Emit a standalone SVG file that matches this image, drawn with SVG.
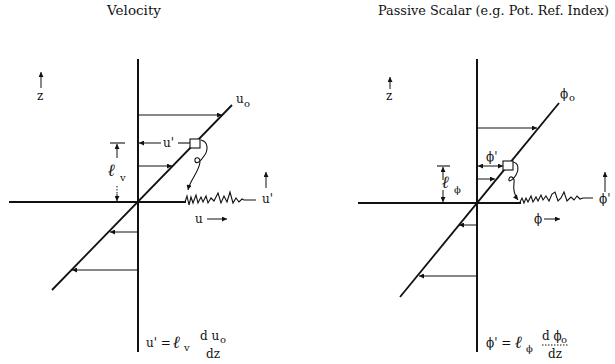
<svg xmlns="http://www.w3.org/2000/svg" width="615" height="364" viewBox="0 0 615 364">
<defs>
<marker id="ah" viewBox="0 0 10 10" refX="10" refY="5" markerWidth="7" markerHeight="5" orient="auto-start-reverse" markerUnits="userSpaceOnUse">
<path d="M0,0 L10,5 L0,10 z" fill="#111"/>
</marker>
<style>
text{font-family:"DejaVu Serif","Liberation Serif",serif;fill:#111;font-size:12px}
.t{font-size:13.5px}
.t2{font-size:12.5px}
.ax{stroke:#111;stroke-width:2;fill:none}
.dg{stroke:#111;stroke-width:1.8;fill:none}
.ar{stroke:#111;stroke-width:1;fill:none;marker-end:url(#ah)}
.th{stroke:#111;stroke-width:1.1;fill:none}
.dot{stroke:#111;stroke-width:1;fill:none;stroke-dasharray:1.5 1.5}
.ell{font-style:italic;font-weight:bold;font-size:17px}
.sub{font-size:10px}
</style>
</defs>
<rect width="615" height="364" fill="#fff"/>
<g id="titles">
<text class="t" x="134" y="15" text-anchor="middle">Velocity</text>
<text class="t2" x="378" y="15" textLength="231" lengthAdjust="spacingAndGlyphs">Passive Scalar (e.g. Pot. Ref. Index)</text>
</g>
<g id="velocity-axes">
<line class="ax" x1="138" y1="59" x2="138" y2="352"/>
<line class="ax" x1="9" y1="202" x2="186" y2="202"/>
<line class="dg" x1="52" y1="290" x2="232" y2="105"/>
<text x="236" y="103">u</text><text class="sub" x="244" y="107">o</text>
<line class="ar" x1="41" y1="88" x2="41" y2="72"/>
<text x="37" y="100">z</text>
</g>
<g id="velocity-profile">
<line class="ar" x1="139" y1="115" x2="222" y2="115"/>
<line class="ar" x1="139" y1="166" x2="172" y2="166"/>
<line class="ar" x1="137" y1="232" x2="110" y2="232"/>
<line class="ar" x1="137" y1="270" x2="72" y2="270"/>
</g>
<g id="velocity-eddy">
<rect x="190" y="139" width="10" height="9" fill="#fff" stroke="#111" stroke-width="1.1"/>
<line class="th" x1="190" y1="143" x2="178" y2="143"/>
<text x="163" y="147">u'</text>
<line class="ar" x1="161" y1="143" x2="139" y2="143"/>
<path class="th" d="M201,140 C209,142 208,151 204,156 C201,161 196,165 195,161 C194,157 200,156 200,162 C199,172 190,180 188,190" marker-end="url(#ah)"/>
</g>
<g id="velocity-fluct">
<path class="th" d="M185,202 L187,196 L189,205 L191,197 L193,203 L196,195 L198,203 L201,197 L203,202 L206,196 L208,203 L211,198 L214,201 L218,193 L221,203 L224,196 L227,202 L230,192 L233,203 L236,198 L239,202 L242,199 L244,200 L256,200" stroke-width="1.3"/>
<line class="ar" x1="266" y1="188" x2="266" y2="172"/>
<text x="262" y="203">u'</text>
<text x="195" y="223">u</text>
<line class="ar" x1="207" y1="219" x2="227" y2="219"/>
</g>
<g id="velocity-mixing-length">
<line class="th" x1="110" y1="143" x2="125" y2="143"/>
<line class="ar" x1="117" y1="158" x2="117" y2="144"/>
<text class="ell" x="108" y="176">ℓ</text>
<text class="sub" x="120" y="181">v</text>
<line class="dot" x1="117" y1="186" x2="117" y2="195"/>
<line class="ar" x1="117" y1="194" x2="117" y2="201"/>
</g>
<g id="velocity-formula">
<text x="146" y="347">u' =</text>
<text class="ell" x="173" y="348">ℓ</text>
<text class="sub" x="184" y="351">v</text>
<text x="200" y="340">d u</text><text class="sub" x="220" y="343">o</text>
<text x="206" y="358">dz</text>
</g>
<g id="scalar-axes">
<line class="ax" x1="477" y1="59" x2="477" y2="352"/>
<line class="ax" x1="358" y1="203" x2="521" y2="203"/>
<line class="dg" x1="400" y1="297" x2="559" y2="103"/>
<text x="560" y="98">ϕ</text><text class="sub" x="569" y="101">o</text>
<line class="ar" x1="390" y1="89" x2="390" y2="77"/>
<text x="386" y="100">z</text>
</g>
<g id="scalar-profile">
<line class="ar" x1="478" y1="128" x2="537" y2="128"/>
<line class="ar" x1="478" y1="179" x2="495" y2="179"/>
<line class="ar" x1="476" y1="225" x2="459" y2="225"/>
<line class="ar" x1="476" y1="276" x2="419" y2="276"/>
</g>
<g id="scalar-eddy">
<rect x="503" y="161" width="10" height="9" fill="#fff" stroke="#111" stroke-width="1.1"/>
<line class="ar" x1="478" y1="166" x2="503" y2="166" marker-start="url(#ah)"/>
<text x="486" y="161">ϕ'</text>
<path class="th" d="M513,162 C519,163 519,170 516,175 C513,180 508,183 509,179 C510,175 515,177 514,183 C513,190 515,196 518,200" marker-end="url(#ah)"/>
</g>
<g id="scalar-fluct">
<path class="th" d="M520,202 L522,198 L524,203 L526,198 L528,202 L531,196 L533,202 L536,197 L538,201 L541,195 L543,200 L546,196 L549,201 L552,194 L555,192 L558,201 L561,198 L564,192 L567,201 L571,197 L574,200 L577,196 L580,199 L583,198 L593,198" stroke-width="1.3"/>
<line class="ar" x1="605" y1="192" x2="605" y2="172"/>
<text x="599" y="203">ϕ'</text>
<text x="534" y="223">ϕ</text>
<line class="ar" x1="544" y1="219" x2="560" y2="219"/>
</g>
<g id="scalar-mixing-length">
<line class="th" x1="437" y1="166" x2="450" y2="166"/>
<line class="ar" x1="443" y1="180" x2="443" y2="167"/>
<text class="ell" x="442" y="188">ℓ</text>
<text class="sub" x="454" y="193">ϕ</text>
<line class="ar" x1="443" y1="190" x2="443" y2="202"/>
</g>
<g id="scalar-formula">
<text x="486" y="347">ϕ' =</text>
<text class="ell" x="515" y="348">ℓ</text>
<text class="sub" x="526" y="352">ϕ</text>
<text x="542" y="340">d ϕ</text><text class="sub" x="561" y="343">o</text>
<line class="dot" x1="542" y1="345" x2="568" y2="345"/>
<text x="548" y="358">dz</text>
</g>
</svg>
